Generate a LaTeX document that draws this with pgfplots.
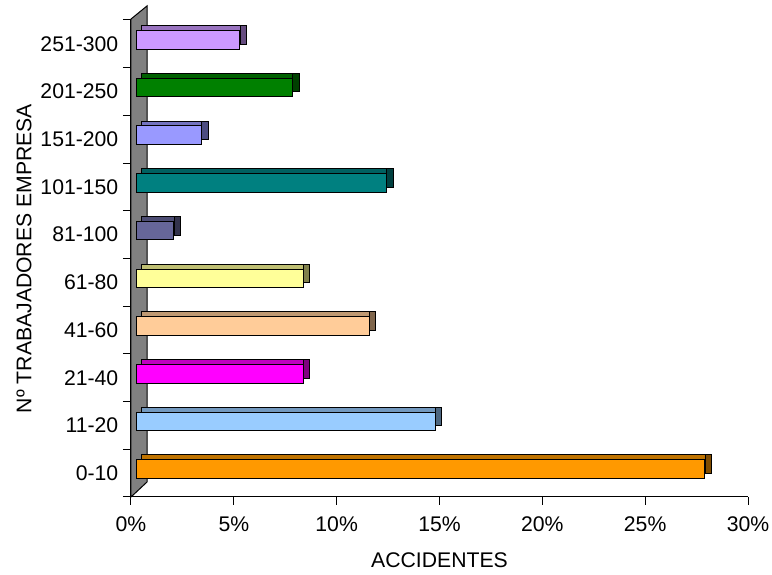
\documentclass[border=0pt]{standalone}
\usepackage{pgfplots}
\pgfplotsset{compat=1.18}
\usepackage{fontspec}
\setmainfont{Liberation Sans}

\definecolor{c0}{HTML}{FF9900}
\definecolor{c1}{HTML}{99CCFF}
\definecolor{c2}{HTML}{FF00FF}
\definecolor{c3}{HTML}{FFCC99}
\definecolor{c4}{HTML}{FFFF99}
\definecolor{c5}{HTML}{666699}
\definecolor{c6}{HTML}{008080}
\definecolor{c7}{HTML}{9999FF}
\definecolor{c8}{HTML}{008000}
\definecolor{c9}{HTML}{CC99FF}
\definecolor{wall}{HTML}{808080}

\newcommand\fs{\fontsize{15.9}{18}\selectfont}

% one 3d bar: #1 category, #2 length, #3 length of top face, #4 colour
\newcommand\tdbar[4]{%
  \addplot[xbar, bar shift=0pt, bar width=14pt, fill=#4!50!black, draw=black, line width=0.6pt,
    xshift=9.15pt, yshift=6.75pt] coordinates {(#2,#1)};
  \addplot[xbar, bar shift=0pt, bar width=14pt, fill=#4!75!black, draw=black, line width=0.6pt,
    xshift=7.65pt, yshift=6.75pt] coordinates {(#3,#1)};
  \addplot[xbar, bar shift=0pt, bar width=14pt, fill=#4, draw=black, line width=0.75pt,
    xshift=4.275pt, yshift=3pt] coordinates {(#2,#1)};
}

\begin{document}
\begin{tikzpicture}
\useasboundingbox (0,0) rectangle (579pt,431.25pt);
\begin{axis}[
    at={(98.25pt,58.5pt)}, anchor=south west,
    scale only axis,
    width=462.75pt, height=357.75pt,
    xmin=0, xmax=30, ymin=-0.5, ymax=9.5,
    clip=false,
    axis lines*=left,
    axis line style={black, line width=0.75pt},
    tick align=outside,
    major tick length=6pt,
    tick style={black, line width=0.75pt},
    xtick={0,5,10,15,20,25,30},
    xticklabels={0\%,5\%,10\%,15\%,20\%,25\%,30\%},
    xticklabel style={yshift=-5pt},
    ytick={-0.5,0.5,...,9.5},
    yticklabels={},
    extra y ticks={0,1,2,3,4,5,6,7,8,9},
    extra y tick labels={0-10,11-20,21-40,41-60,61-80,81-100,101-150,151-200,201-250,251-300},
    extra y tick style={tick style={draw=none}},
    every tick label/.append style={font=\fs},
    label style={font=\fs},
    xlabel={ACCIDENTES},
    ylabel={Nº TRABAJADORES EMPRESA},
    xlabel style={at={(axis description cs:0.5,0)}, anchor=center, yshift=-47.25pt},
    ylabel style={at={(axis description cs:0,0.5)}, anchor=center, yshift=80.25pt},
]
\addplot[fill=wall, draw=black, line width=0.75pt]
  coordinates {(0,-0.5) (0,9.52) (0.778,9.794) (0.778,-0.186)} -- cycle;
\tdbar{0}{27.63}{27.41}{c0}
\tdbar{1}{14.52}{14.30}{c1}
\tdbar{2}{8.10}{7.88}{c2}
\tdbar{3}{11.31}{11.09}{c3}
\tdbar{4}{8.10}{7.88}{c4}
\tdbar{5}{1.81}{1.59}{c5}
\tdbar{6}{12.16}{11.94}{c6}
\tdbar{7}{3.17}{2.95}{c7}
\tdbar{8}{7.58}{7.36}{c8}
\tdbar{9}{5.02}{4.80}{c9}
\end{axis}
\end{tikzpicture}
\end{document}
